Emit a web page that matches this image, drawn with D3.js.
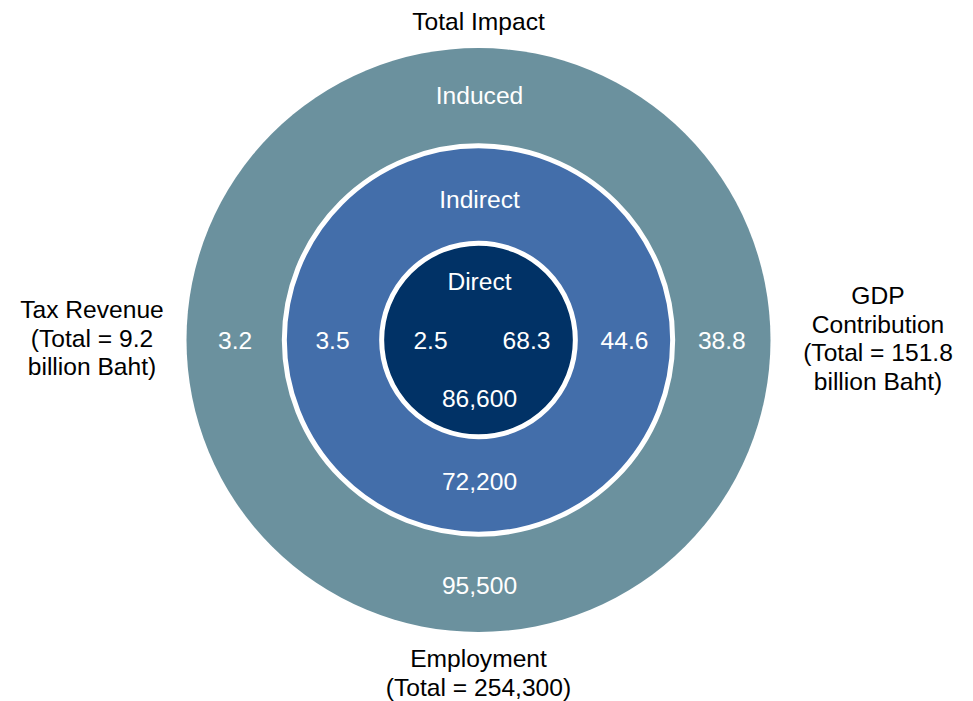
<!DOCTYPE html>
<html>
<head>
<meta charset="utf-8">
<script src="https://cdn.jsdelivr.net/npm/d3@7"></script>
<style>
  html, body { margin: 0; padding: 0; background: #fff; }
  svg { display: block; font-family: "Liberation Sans", Arial, Helvetica, sans-serif; }
</style>
</head>
<body>
<svg id="chart" width="973" height="701"></svg>
<script>
// Impact levels, innermost first
const levels = ["Direct", "Indirect", "Induced"];
// Tax revenue (billion Baht) by level
const taxRevenue = [2.5, 3.5, 3.2];
// GDP contribution (billion Baht) by level
const gdpContribution = [68.3, 44.6, 38.8];
// Employment (jobs) by level
const employment = [86600, 72200, 95500];
// Totals quoted in the side labels
const totalTax = 9.2;
const totalGdp = 151.8;
const totalEmployment = 254300;
const ringColors = ["#013266", "#436eaa", "#6b919e"];

const svg = d3.select("#chart");
const cx = 478.5, cy = 340;
const fontSize = 24.6;

// ring index -> outer radius
const radius = d3.scaleLinear().domain([0, 3]).range([0, 292]);
const fmtInt = d3.format(",");
const fmt1 = d3.format(".1f");

const g = svg.append("g").attr("transform", `translate(${cx},${cy})`);

// draw circles from outermost to innermost
const order = d3.range(levels.length).reverse();
g.selectAll("circle.ring")
  .data(order)
  .join("circle")
  .attr("class", "ring")
  .attr("r", i => i === levels.length - 1 ? radius(i + 1) : radius(i + 1) - 0.5)
  .attr("fill", i => ringColors[i])
  .attr("stroke", i => i === levels.length - 1 ? "none" : "#fff")
  .attr("stroke-width", 5);

// horizontal and vertical label distances from the centre for each ring
const labelX = i => i === 0 ? 48 : (radius(i) + radius(i + 1)) / 2;
const labelY = i => i === 0 ? 58.5 : i === 1 ? 141 : 245;

const white = g.append("g")
  .attr("fill", "#fff")
  .attr("font-size", fontSize)
  .attr("text-anchor", "middle")
  .attr("dominant-baseline", "central");

// level names above the centre
white.selectAll("text.name")
  .data(levels)
  .join("text")
  .attr("class", "name")
  .attr("x", 1)
  .attr("y", (d, i) => -labelY(i))
  .text(d => d);

// tax revenue on the left
white.selectAll("text.tax")
  .data(taxRevenue)
  .join("text")
  .attr("class", "tax")
  .attr("x", (d, i) => -labelX(i))
  .attr("y", 0)
  .text(d => fmt1(d));

// GDP contribution on the right
white.selectAll("text.gdp")
  .data(gdpContribution)
  .join("text")
  .attr("class", "gdp")
  .attr("x", (d, i) => labelX(i))
  .attr("y", 0)
  .text(d => fmt1(d));

// employment below the centre
white.selectAll("text.emp")
  .data(employment)
  .join("text")
  .attr("class", "emp")
  .attr("x", 1)
  .attr("y", (d, i) => labelY(i))
  .text(d => fmtInt(d));

// outer captions
const captions = [
  { x: cx, y: 30, lines: ["Total Impact"] },
  { x: 92, y: 318, lines: ["Tax Revenue", `(Total = ${fmt1(totalTax)}`, "billion Baht)"] },
  { x: 878, y: 304, lines: ["GDP", "Contribution", `(Total = ${fmt1(totalGdp)}`, "billion Baht)"] },
  { x: cx, y: 667, lines: ["Employment", `(Total = ${fmtInt(totalEmployment)})`] }
];

svg.append("g")
  .attr("fill", "#000")
  .attr("font-size", fontSize)
  .attr("text-anchor", "middle")
  .selectAll("text")
  .data(captions)
  .join("text")
  .attr("x", d => d.x)
  .attr("y", d => d.y)
  .selectAll("tspan")
  .data(d => d.lines.map(l => ({ l, x: d.x })))
  .join("tspan")
  .attr("x", d => d.x)
  .attr("dy", (d, i) => i === 0 ? 0 : 28.7)
  .text(d => d.l);
</script>
</body>
</html>
